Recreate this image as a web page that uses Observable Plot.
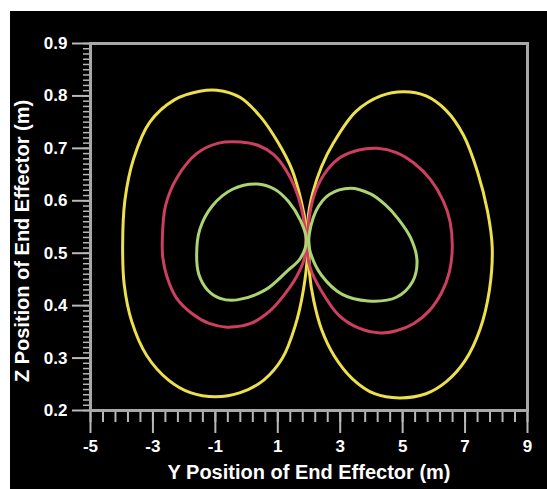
<!DOCTYPE html>
<html><head><meta charset="utf-8">
<script src="https://cdn.jsdelivr.net/npm/d3@7"></script>
<script src="https://cdn.jsdelivr.net/npm/@observablehq/plot@0.6"></script>
<style>
body{margin:0;background:#fff;}
#wrap{padding:11px 0 0 10px;width:537px;height:478px;}
#wrap svg{display:block;}
</style></head><body><div id="wrap"></div>
<script>
const xTicks = [-5, -3, -1, 1, 3, 5, 7, 9];
const yTicks = [0.2, 0.3, 0.4, 0.5, 0.6, 0.7, 0.8, 0.9];
const xTitle = "Y Position of End Effector (m)";
const yTitle = "Z Position of End Effector (m)";
const seriesNames = ["outer", "middle", "inner"];
const seriesColors = ["#ece04c", "#cc3f5e", "#acd472"];

const yellowLeft = [[-3.97,0.515],[-3.90,0.60],[-3.62,0.68],[-3.10,0.75],[-2.30,0.793],[-1.50,0.809],[-0.95,0.811],[-0.20,0.797],[0.45,0.76],[1.00,0.712],[1.45,0.66],[1.75,0.60],[1.92,0.545],[1.96,0.51],[1.82,0.43],[1.55,0.36],[1.15,0.30],[0.55,0.258],[-0.20,0.234],[-1.00,0.226],[-1.80,0.234],[-2.50,0.258],[-3.20,0.305],[-3.68,0.37],[-3.92,0.44]];
const yellowRight = [[2.00,0.511],[1.97,0.565],[2.12,0.615],[2.40,0.665],[2.80,0.712],[3.50,0.770],[4.30,0.800],[5.04,0.808],[5.75,0.800],[6.40,0.772],[6.95,0.725],[7.40,0.655],[7.72,0.58],[7.87,0.511],[7.78,0.43],[7.48,0.355],[7.00,0.295],[6.40,0.255],[5.75,0.232],[4.90,0.224],[4.10,0.232],[3.40,0.26],[2.80,0.305],[2.40,0.355],[2.15,0.41],[2.02,0.46]];
const redLeft = [[-2.70,0.524],[-2.60,0.59],[-2.22,0.645],[-1.60,0.69],[-0.90,0.710],[-0.19,0.712],[0.40,0.705],[0.87,0.688],[1.25,0.66],[1.55,0.625],[1.76,0.585],[1.89,0.53],[1.85,0.49],[1.60,0.455],[1.20,0.42],[0.75,0.39],[0.13,0.366],[-0.62,0.359],[-1.20,0.366],[-1.75,0.385],[-2.25,0.415],[-2.55,0.455],[-2.68,0.49]];
const redRight = [[1.94,0.505],[1.99,0.562],[2.22,0.62],[2.60,0.66],[3.01,0.683],[3.60,0.697],[4.18,0.700],[4.80,0.692],[5.36,0.672],[5.90,0.64],[6.30,0.60],[6.52,0.56],[6.59,0.511],[6.50,0.465],[6.25,0.425],[5.85,0.39],[5.36,0.366],[4.80,0.352],[4.29,0.348],[3.60,0.357],[2.95,0.382],[2.38,0.43],[2.05,0.47]];
const greenLeft = [[-1.60,0.497],[-1.50,0.545],[-1.10,0.59],[-0.45,0.622],[0.34,0.632],[0.90,0.622],[1.35,0.598],[1.73,0.562],[1.92,0.525],[1.72,0.49],[1.30,0.466],[0.60,0.43],[-0.30,0.411],[-0.85,0.414],[-1.25,0.43],[-1.53,0.46]];
const greenRight = [[1.99,0.524],[2.22,0.58],[2.65,0.612],[3.33,0.624],[3.97,0.613],[4.45,0.592],[4.85,0.566],[5.25,0.53],[5.46,0.486],[5.32,0.446],[4.80,0.416],[3.90,0.409],[3.05,0.422],[2.40,0.458],[2.08,0.495]];

const loops = [
  {name: "yl", series: "outer", pts: yellowLeft},
  {name: "yr", series: "outer", pts: yellowRight},
  {name: "rl", series: "middle", pts: redLeft},
  {name: "rr", series: "middle", pts: redRight},
  {name: "gl", series: "inner", pts: greenLeft},
  {name: "gr", series: "inner", pts: greenRight}
];
const data = loops.flatMap(l => l.pts.map(([x, y]) => ({loop: l.name, series: l.series, x, y})));

const xMinor = d3.range(0, 36).map(i => -5 + i * 0.4);
const yMinor = d3.range(0, 71).map(i => 0.2 + i * 0.01);

const font = "'Liberation Sans', Arial, sans-serif";
const chart = Plot.plot({
  width: 537, height: 478,
  marginLeft: 80, marginRight: 20, marginTop: 32, marginBottom: 79,
  style: {background: "#000", color: "#fff", fontFamily: font},
  x: {domain: [-5, 9]},
  y: {domain: [0.2, 0.9]},
  color: {domain: seriesNames, range: seriesColors},
  marks: [
    Plot.axisX(xMinor, {tickSize: 12, text: null, stroke: "#b8b8b8", strokeWidth: 2, label: null}),
    Plot.axisX(xTicks, {tickSize: 23, tickPadding: 6, stroke: "#b8b8b8", strokeWidth: 2, fill: "#fff",
      fontSize: 17, fontWeight: "bold", tickFormat: d => String(d), label: null}),
    Plot.axisY(yMinor, {tickSize: 7, text: null, stroke: "#b8b8b8", strokeWidth: 1.5, label: null}),
    Plot.axisY(yTicks, {tickSize: 18, tickPadding: 5, stroke: "#b8b8b8", strokeWidth: 2, fill: "#fff",
      fontSize: 17, fontWeight: "bold", tickFormat: d => d.toFixed(1), label: null}),
    Plot.frame({stroke: "#a8a8a8", strokeWidth: 3}),
    Plot.line(data, {x: "x", y: "y", z: "loop", stroke: "series", strokeWidth: 3, curve: "catmull-rom-closed"}),
    Plot.text([xTitle], {frameAnchor: "bottom", dy: 68, fontSize: 20, fontWeight: "bold", fill: "#fff"}),
    Plot.text([yTitle], {frameAnchor: "left", textAnchor: "middle", dx: -68, dy: 14, rotate: -90, fontSize: 20, fontWeight: "bold", fill: "#fff"})
  ]
});
document.getElementById("wrap").appendChild(chart);
</script></body></html>
